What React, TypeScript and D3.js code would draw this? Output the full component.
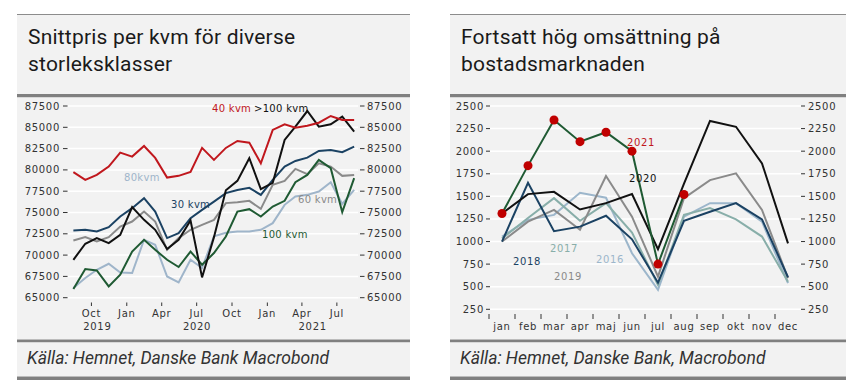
import React from 'react';
import * as d3 from 'd3';

// ---- left chart: price per sqm by size class, monthly Aug 2019 - Aug 2021 ----
const months = [
  '2019-08', '2019-09', '2019-10', '2019-11', '2019-12',
  '2020-01', '2020-02', '2020-03', '2020-04', '2020-05', '2020-06',
  '2020-07', '2020-08', '2020-09', '2020-10', '2020-11', '2020-12',
  '2021-01', '2021-02', '2021-03', '2021-04', '2021-05', '2021-06',
  '2021-07', '2021-08',
];
const kvm40 = [79730, 78830, 79410, 80390, 82030, 81560, 82810, 81410, 79100, 79300, 79770, 82580, 81170,
  82580, 83400, 83200, 80780, 84690, 85350, 84960, 85190, 85540, 86330, 85860, 85860];
const kvm30 = [72890, 72970, 72770, 73280, 74530, 75510, 76680, 75110, 72000, 72580, 74340, 75310, 76280,
  77270, 77650, 77890, 77070, 78830, 80390, 81050, 81440, 82230, 82340, 82070, 82730];
const kvm60 = [71710, 72110, 71600, 72110, 73350, 73940, 75110, 73940, 70620, 72000, 72970, 73550, 74140,
  76100, 76210, 76370, 75430, 78240, 78710, 80120, 79500, 80780, 80390, 79300, 79410];
const kvm100plus = [69450, 71330, 71990, 71410, 72380, 75630, 74140, 72970, 70710, 71800, 74060, 67380, 72110,
  77600, 78710, 81370, 77740, 78480, 83520, 85070, 86910, 85070, 85360, 86250, 84490];
const kvm100 = [66020, 68360, 68200, 66320, 67690, 70420, 71800, 70620, 69450, 68600, 70420, 68870, 70240,
  72180, 75110, 75390, 74530, 75700, 76370, 78560, 79410, 81170, 80200, 75040, 79030];
const kvm80 = [66130, 67310, 68280, 68980, 67960, 67890, 71800, 71210, 67490, 66790, 69450, 68480, 72200,
  72620, 72770, 72770, 72970, 73750, 75900, 76870, 77070, 77460, 78560, 76000, 77660];
const leftTicks = [65000, 67500, 70000, 72500, 75000, 77500, 80000, 82500, 85000, 87500];

// ---- right chart: monthly turnover per year ----
const monthNames = ['jan', 'feb', 'mar', 'apr', 'maj', 'jun', 'jul', 'aug', 'sep', 'okt', 'nov', 'dec'];
const y2016 = [1055, 1240, 1295, 1540, 1485, 870, 465, 1275, 1425, 1425, 1220, 540];
const y2017 = [1035, 1260, 1480, 1230, 1425, 1100, 520, 1295, 1370, 1245, 1055, 555];
const y2018 = [1000, 1650, 1115, 1165, 1285, 1025, 545, 1230, 1330, 1425, 1245, 605];
const y2019 = [1000, 1220, 1350, 1130, 1725, 1275, 612, 1480, 1680, 1755, 1350, 595];
const y2020 = [1310, 1525, 1550, 1355, 1425, 1525, 915, 1640, 2335, 2270, 1865, 980];
const y2021 = [1310, 1840, 2345, 2105, 2210, 2000, 750, 1520];
const rightTicks = [250, 500, 750, 1000, 1250, 1500, 1750, 2000, 2250, 2500];

const BG = '#f2f2f2';
const FRAME = '#808080';
const FONT = '"DejaVu Sans", sans-serif';
const TITLE_FONT = 'Roboto, sans-serif';
const TICK_STYLE = { fontFamily: FONT, fontSize: 10, letterSpacing: 0.7, fill: '#333' };

const parse = d3.timeParse('%Y-%m-%d');

const Panel = ({ x0, x1, title, source }) => (
  <g>
    <line x1={x0} x2={x1} y1={14.5} y2={14.5} stroke="#8c8c8c" strokeWidth={1} />
    <rect x={x0} y={15} width={x1 - x0} height={79} fill={BG} />
    {title.map((t, i) => (
      <text key={t} x={x0 + 11} y={43.5 + i * 27} fontFamily={TITLE_FONT} fontSize={21} letterSpacing={0.2} fill="#1a1a1a">{t}</text>
    ))}
    <rect x={x0} y={94} width={x1 - x0} height={3.5} fill={FRAME} />
    <rect x={x0} y={97.5} width={x1 - x0} height={242} fill={BG} />
    <rect x={x0} y={339.5} width={x1 - x0} height={3} fill={FRAME} />
    <rect x={x0} y={342.5} width={x1 - x0} height={34} fill={BG} />
    <text x={x0 + 10} y={364} fontFamily={TITLE_FONT} fontStyle="italic" fontSize={17.5} fill="#333">{source}</text>
    <rect x={x0} y={376.5} width={x1 - x0} height={3.5} fill={FRAME} />
  </g>
);

const LeftChart = () => {
  const x = d3.scaleTime().domain([parse('2019-08-01'), parse('2021-08-25')]).range([68, 358]);
  const y = d3.scaleLinear().domain([65000, 87500]).range([297.7, 106]);
  const dates = months.map((m) => parse(m + '-15'));
  const line = d3.line().x((d, i) => x(dates[i])).y((d) => y(d));
  const series = [
    { data: kvm80, color: '#9fb5ca' },
    { data: kvm60, color: '#8a8a8a' },
    { data: kvm30, color: '#1b4263' },
    { data: kvm100, color: '#1f5a33' },
    { data: kvm100plus, color: '#111' },
    { data: kvm40, color: '#c0171d' },
  ];
  const quarters = d3.timeMonth.every(3).range(parse('2019-10-01'), parse('2021-08-01'));
  const [d0, d1] = x.domain();
  const years = [2019, 2020, 2021].map((yr) => {
    const a = d3.max([d0, new Date(yr, 0, 1)]);
    const b = d3.min([d1, new Date(yr + 1, 0, 1)]);
    return { yr, cx: (x(a) + x(b)) / 2 };
  });
  const labels = [
    { text: '40 kvm', x: 212, y: 112, color: '#c0171d' },
    { text: '>100 kvm', x: 254, y: 112, color: '#111' },
    { text: '80kvm', x: 124, y: 181, color: '#9fb5ca' },
    { text: '30 kvm', x: 171, y: 208, color: '#1b4263' },
    { text: '60 kvm', x: 298, y: 203, color: '#8a8a8a' },
    { text: '100 kvm', x: 262, y: 238, color: '#1f5a33' },
  ];
  return (
    <g>
      {leftTicks.map((t) => (
        <g key={t}>
          <line x1={68} x2={358} y1={y(t)} y2={y(t)} stroke="#fff" strokeWidth={1.5} />
          <line x1={63} x2={67.5} y1={y(t)} y2={y(t)} stroke="#333" />
          <text x={60} y={y(t)} dy="0.35em" textAnchor="end" style={TICK_STYLE}>{t}</text>
          <line x1={360} x2={364.5} y1={y(t)} y2={y(t)} stroke="#333" />
          <text x={367} y={y(t)} dy="0.35em" style={TICK_STYLE}>{t}</text>
        </g>
      ))}
      {quarters.map((q) => (
        <g key={+q}>
          <line x1={x(q)} x2={x(q)} y1={302.5} y2={306} stroke="#333" />
          <text x={x(q)} y={317} textAnchor="middle" style={TICK_STYLE}>{d3.timeFormat('%b')(q)}</text>
        </g>
      ))}
      {years.map((d) => (
        <text key={d.yr} x={d.cx} y={330} textAnchor="middle" style={TICK_STYLE}>{d.yr}</text>
      ))}
      {series.map((s) => (
        <path key={s.color} d={line(s.data)} fill="none" stroke={s.color} strokeWidth={2} strokeLinejoin="miter" />
      ))}
      {labels.map((l) => (
        <text key={l.text} x={l.x} y={l.y} fontFamily={FONT} fontSize={10} letterSpacing={0.3} fill={l.color}>{l.text}</text>
      ))}
    </g>
  );
};

const RightChart = () => {
  const x = d3.scaleBand().domain(monthNames).range([489, 801]);
  const y = d3.scaleLinear().domain([250, 2500]).range([309.3, 106]);
  const cx = (i) => x(monthNames[i]) + x.bandwidth() / 2;
  const line = d3.line().x((d, i) => cx(i)).y((d) => y(d));
  const series = [
    { data: y2016, color: '#9cb6cb' },
    { data: y2017, color: '#88aea9' },
    { data: y2019, color: '#8a8a8a' },
    { data: y2018, color: '#1b4263' },
    { data: y2020, color: '#111' },
    { data: y2021, color: '#1f5a33' },
  ];
  const labels = [
    { text: '2021', x: 641, y: 145.5, color: '#c0171d' },
    { text: '2020', x: 643, y: 181.5, color: '#111' },
    { text: '2018', x: 527, y: 264.5, color: '#1b4263' },
    { text: '2017', x: 564, y: 252, color: '#88aea9' },
    { text: '2016', x: 610, y: 262.5, color: '#9cb6cb' },
    { text: '2019', x: 568, y: 279.5, color: '#8a8a8a' },
  ];
  return (
    <g>
      {rightTicks.map((t) => (
        <g key={t}>
          <line x1={490} x2={801} y1={y(t)} y2={y(t)} stroke="#fff" strokeWidth={1.5} />
          <line x1={486} x2={490} y1={y(t)} y2={y(t)} stroke="#333" />
          <text x={484} y={y(t)} dy="0.35em" textAnchor="end" style={TICK_STYLE}>{t}</text>
          <line x1={801} x2={805} y1={y(t)} y2={y(t)} stroke="#333" />
          <text x={808} y={y(t)} dy="0.35em" style={TICK_STYLE}>{t}</text>
        </g>
      ))}
      {monthNames.map((m) => (
        <g key={m}>
          <line x1={x(m)} x2={x(m)} y1={314} y2={319} stroke="#333" />
          <text x={x(m) + x.bandwidth() / 2} y={330} textAnchor="middle" style={TICK_STYLE}>{m}</text>
        </g>
      ))}
      {series.map((s) => (
        <path key={s.color} d={line(s.data)} fill="none" stroke={s.color} strokeWidth={2} />
      ))}
      {y2021.map((v, i) => (
        <circle key={i} cx={cx(i)} cy={y(v)} r={4.5} fill="#c00000" />
      ))}
      {labels.map((l) => (
        <text key={l.text} x={l.x} y={l.y} textAnchor="middle" fontFamily={FONT} fontSize={10} letterSpacing={0.7} fill={l.color}>{l.text}</text>
      ))}
    </g>
  );
};

export default function App() {
  return (
    <svg width={854} height={392} style={{ position: 'absolute', left: 0, top: 0, background: '#fff' }}>
      <Panel x0={17} x1={410} title={['Snittpris per kvm för diverse', 'storleksklasser']}
        source="Källa: Hemnet, Danske Bank Macrobond" />
      <Panel x0={450} x1={846} title={['Fortsatt hög omsättning på', 'bostadsmarknaden']}
        source="Källa: Hemnet, Danske Bank, Macrobond" />
      <LeftChart />
      <RightChart />
    </svg>
  );
}
